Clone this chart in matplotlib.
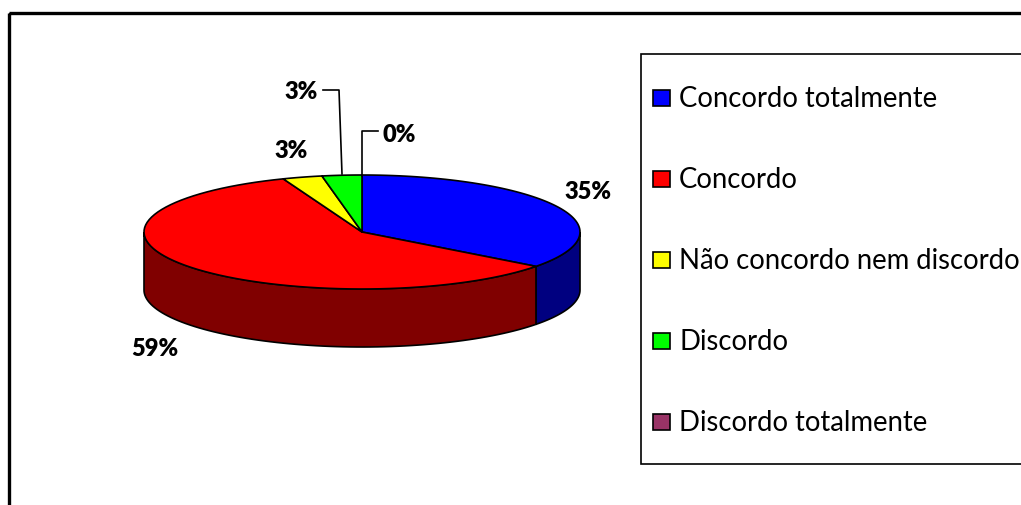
import numpy as np
import matplotlib
matplotlib.use("Agg")
import matplotlib.pyplot as plt
from matplotlib.patches import Polygon, Rectangle

# respostas por categoria
categorias = ["Concordo totalmente", "Concordo", "Não concordo nem discordo",
              "Discordo", "Discordo totalmente"]
respostas = [12, 20, 1, 1, 0]

cores_topo = ["#0000FF", "#FF0000", "#FFFF00", "#00FF00", "#993366"]
cores_lado = ["#000080", "#800000", "#808000", "#008000", "#4D1A33"]

# posicao dos rotulos (px) e cotovelos das linhas de chamada
pos_rotulos = [(588, 192), (155, 349), (291, 151), (301, 92), (399, 135)]
chamadas = [None, None, None, [(323, 91), (339, 91), (342, 175)],
            [(378, 132), (362, 132), (362, 177)]]

W, H = 1021, 506
cx, cy, rx, ry, prof = 362, 233, 218, 57, 58

plt.rcParams['font.family'] = ['Lato', 'DejaVu Sans']

fig = plt.figure(figsize=(W / 100, H / 100), dpi=100)
ax = fig.add_axes([0, 0, 1, 1])
ax.set_xlim(0, W)
ax.set_ylim(H, 0)
ax.axis('off')


def arco(a0, a1, dy=0, n=80):
    t = np.radians(np.linspace(a0, a1, n))
    return np.column_stack([cx + rx * np.sin(t), cy - ry * np.cos(t) + dy])


total = sum(respostas)
fracs = np.array(respostas) / total
lims = np.concatenate([[0], np.cumsum(fracs) * 360])

# paredes laterais (so a metade da frente aparece)
for i in range(len(respostas)):
    a0, a1 = max(lims[i], 90), min(lims[i + 1], 270)
    if a1 <= a0:
        continue
    cima = arco(a0, a1)
    baixo = arco(a0, a1, dy=prof)[::-1]
    ax.add_patch(Polygon(np.vstack([cima, baixo]), closed=True,
                         facecolor=cores_lado[i], edgecolor='black', lw=1.2))

# fatias do topo
for i in range(len(respostas)):
    if lims[i + 1] - lims[i] <= 0:
        continue
    pts = np.vstack([[cx, cy], arco(lims[i], lims[i + 1])])
    ax.add_patch(Polygon(pts, closed=True, facecolor=cores_topo[i],
                         edgecolor='black', lw=1.2, joinstyle='round'))

# rotulos de porcentagem
for i, v in enumerate(respostas):
    txt = f"{round(100 * v / total)}%"
    x, y = pos_rotulos[i]
    ax.text(x, y, txt, ha='center', va='center', fontsize=17,
            fontweight='heavy', color='black')
    if chamadas[i]:
        xs, ys = zip(*chamadas[i])
        ax.plot(xs, ys, color='black', lw=1.2)

# legenda
ax.add_patch(Rectangle((641, 55), 420, 410, facecolor='white',
                       edgecolor='black', lw=1.2, clip_on=False))
for i, nome in enumerate(categorias):
    yl = 99 + i * 81
    ax.add_patch(Rectangle((653, yl - 8), 17, 16, facecolor=cores_topo[i],
                           edgecolor='black', lw=1.2))
    ax.text(679, yl, nome, ha='left', va='center', fontsize=19.8, color='black')

# moldura externa
ax.add_patch(Rectangle((9, 14), 1040, 520, facecolor='none',
                       edgecolor='black', lw=2.4, clip_on=False))

fig.savefig("out.png", dpi=100)
